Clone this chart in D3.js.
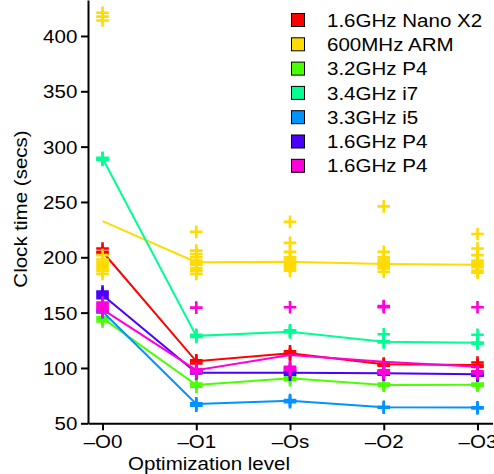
<!DOCTYPE html>
<html>
<head>
<meta charset="utf-8">
<script src="https://cdn.jsdelivr.net/npm/d3@7"></script>
<style>
  html, body { margin: 0; padding: 0; background: #fff; }
  svg { display: block; }
  text { font-family: "Liberation Sans", Arial, sans-serif; fill: #000; }
</style>
</head>
<body>
<svg id="chart" width="494" height="474"></svg>
<script>
// ---------------- data ----------------
const levels = ["\u2013O0", "\u2013O1", "\u2013Os", "\u2013O2", "\u2013O3"];
const seriesNames = ["1.6GHz Nano X2", "600MHz ARM", "3.2GHz P4", "3.4GHz i7", "3.3GHz i5", "1.6GHz P4", "1.6GHz P4"];
const seriesColors = ["#FF0000", "#FFDB00", "#49FF00", "#00FF92", "#0092FF", "#4900FF", "#FF00DB"];
const yTicks = [50, 100, 150, 200, 250, 300, 350, 400];

// mean clock time per optimization level (line)
const meanNanoX2 = [205, 106, 113.3, 103.3, 102.7];
const meanARM    = [232.7, 195.5, 196, 194, 193.3];
const meanP4_32  = [145, 84.6, 90.6, 84.6, 84.9];
const meanI7     = [289.5, 129, 132.8, 123.7, 122.8];
const meanI5     = [151, 67.4, 70.4, 64.5, 64.3];
const meanP4_16a = [166, 95.7, 95.7, 95.2, 94.3];
const meanP4_16b = [153, 98, 111.7, 105.7, 101.2];

// individual runs per optimization level (crosses)
const runsNanoX2 = [[203, 205, 208], [104, 106, 107], [112, 113, 115], [102, 103, 104], [101, 102.5, 105]];
const runsARM = [
  [414, 417.5, 421, 185, 188, 190, 192, 194, 196, 198, 202],
  [223, 206, 203, 200, 197, 195, 193, 190, 188, 185],
  [232, 213, 205, 200, 198, 196, 194, 192, 190, 188],
  [246, 205, 200, 198, 196, 194, 192, 190, 187],
  [221, 208, 202, 197, 195, 193, 191, 188, 186]
];
const runsP4_32  = [[142, 144, 146], [83, 85, 86], [89, 91, 92], [84, 85, 86], [84, 85, 86]];
const runsI7     = [[288, 289, 290], [128, 129, 130], [132, 133, 134], [130.4, 124, 123], [130, 123, 122]];
const runsI5     = [[150, 151, 152], [66, 67, 68], [69, 70, 71], [64, 65], [63.5, 64.5]];
const runsP4_16a = [[163, 165, 167, 169], [95, 96, 97], [94, 96, 97], [94, 95, 96], [93, 94, 95]];
const runsP4_16b = [[151, 153, 155, 157, 159], [154.5, 96, 97, 98, 99], [154.8, 98, 99, 100, 101], [156, 155, 95, 96, 97, 98], [154.8, 95, 96, 97]];

const meansAll = [meanNanoX2, meanARM, meanP4_32, meanI7, meanI5, meanP4_16a, meanP4_16b];
const runsAll  = [runsNanoX2, runsARM, runsP4_32, runsI7, runsI5, runsP4_16a, runsP4_16b];

// ---------------- chart ----------------
const svg = d3.select("#chart");
const SX = 1.11;      // horizontal stretch of text in the reference
const FS = 18.5;

const x = d3.scaleLinear().domain([-0.155, 4.16]).range([88, 492.5]);
const y = d3.scaleLinear().domain([50, 432.5]).range([423.3, 0]);

// series
const line = d3.line().x((d, i) => x(i)).y(d => y(d));
const crossPath = "M-6.3,0H6.3M0,-6.3V6.3";

seriesNames.forEach((name, s) => {
  const g = svg.append("g");
  const pts = [];
  runsAll[s].forEach((arr, i) => arr.forEach(v => pts.push({ i, v })));
  g.selectAll("path.pt").data(pts).join("path")
    .attr("class", "pt")
    .attr("d", crossPath)
    .attr("transform", d => `translate(${x(d.i)},${y(d.v)})`)
    .attr("stroke", seriesColors[s])
    .attr("stroke-width", 2.6)
    .attr("fill", "none");
  g.append("path")
    .datum(meansAll[s])
    .attr("d", line)
    .attr("fill", "none")
    .attr("stroke", seriesColors[s])
    .attr("stroke-width", 2);
});

// axes
const yAxis = svg.append("g")
  .attr("transform", "translate(88,0)")
  .call(d3.axisLeft(y).tickValues(yTicks).tickSize(7).tickSizeOuter(0).tickPadding(0).tickFormat(d3.format("d")));
const xAxis = svg.append("g")
  .attr("transform", "translate(0,423.3)")
  .call(d3.axisBottom(x).tickValues(d3.range(levels.length)).tickSize(7).tickSizeOuter(0).tickPadding(0).tickFormat(i => levels[i]));

[yAxis, xAxis].forEach(ax => {
  ax.select(".domain").attr("stroke", "#000").attr("stroke-width", 2);
  ax.selectAll(".tick line").attr("stroke", "#000").attr("stroke-width", 2);
  ax.selectAll(".tick text").attr("font-size", FS).attr("font-family", "Liberation Sans, Arial, sans-serif").attr("fill", "#000");
});
yAxis.selectAll(".tick text")
  .attr("x", -10.7 / SX)
  .attr("dy", "0.35em")
  .attr("transform", `scale(${SX},1)`);
xAxis.selectAll(".tick text")
  .attr("y", 0)
  .attr("dy", 0)
  .attr("transform", `translate(0,24.7) scale(${SX},1)`);

// axis titles
svg.append("text")
  .attr("transform", `translate(27,209) rotate(-90) scale(${SX},1)`)
  .attr("text-anchor", "middle")
  .attr("font-size", FS)
  .text("Clock time (secs)");
svg.append("text")
  .attr("transform", `translate(209,470) scale(${SX},1)`)
  .attr("text-anchor", "middle")
  .attr("font-size", FS)
  .text("Optimization level");

// legend
const legend = svg.append("g");
seriesNames.forEach((name, s) => {
  const cy = 20 + s * 24.3;
  legend.append("rect")
    .attr("x", 291.5).attr("y", cy - 6.5)
    .attr("width", 13).attr("height", 13)
    .attr("fill", seriesColors[s])
    .attr("stroke", "#000").attr("stroke-width", 1);
  legend.append("text")
    .attr("transform", `translate(327,${cy + 6.6}) scale(${SX},1)`)
    .attr("font-size", FS)
    .text(name);
});
</script>
</body>
</html>
